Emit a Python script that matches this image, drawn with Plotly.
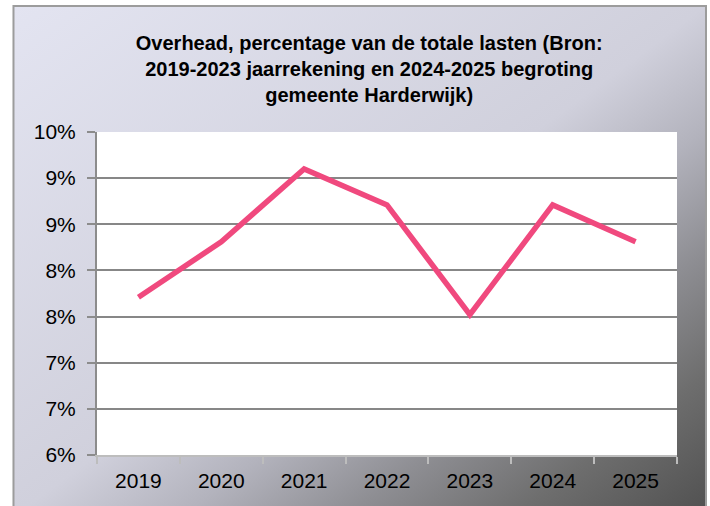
import base64
import plotly.graph_objects as go

title_fontsize = 20
tick_fontsize = 21
font_family = 'Liberation Sans, Arial, sans-serif'

years = ['2019', '2020', '2021', '2022', '2023', '2024', '2025']
overhead_pct = [7.71, 8.31, 9.1, 8.71, 7.52, 8.71, 8.31]

y_tickvals = [6.0, 6.5, 7.0, 7.5, 8.0, 8.5, 9.0, 9.5]
y_ticktext = ['6%', '7%', '7%', '8%', '8%', '9%', '9%', '10%']


def gradient_background():
    # diagonal grey gradient like the Excel chart area
    svg = ("<svg xmlns='http://www.w3.org/2000/svg' viewBox='0 0 100 100' "
           "width='100' height='100' preserveAspectRatio='none'>"
           "<defs><linearGradient id='g' x1='0' y1='0' x2='1' y2='1'>"
           "<stop offset='0' stop-color='#e3e4f1'/>"
           "<stop offset='0.5' stop-color='#d0d0dc'/>"
           "<stop offset='0.62' stop-color='#b3b3bd'/>"
           "<stop offset='0.74' stop-color='#8e8e93'/>"
           "<stop offset='0.86' stop-color='#6e6e6e'/>"
           "<stop offset='1' stop-color='#505050'/>"
           "</linearGradient></defs>"
           "<rect x='0' y='0' width='100' height='100' fill='url(#g)'/></svg>")
    return 'data:image/svg+xml;base64,' + base64.b64encode(svg.encode()).decode()


f = go.Figure()

f.add_trace(go.Scatter(x=years, y=overhead_pct,
                       mode='lines',
                       name='Overhead',
                       line={
                           'color': '#f0497e',
                           'width': 5.5
                       }
                       )
            )

f.add_layout_image(dict(
    source=gradient_background(),
    xref='paper', yref='paper',
    x=-0.144, y=1.39,
    sizex=1.194, sizey=1.58,
    xanchor='left', yanchor='top',
    sizing='stretch',
    layer='below'
))

# white plot area on top of the gradient
f.add_shape(type='rect', xref='x domain', yref='y domain',
            x0=0, x1=1, y0=0, y1=1,
            fillcolor='white', line={'width': 0}, layer='below')

# chart area border
f.add_shape(type='rect', xref='paper', yref='paper',
            x0=-0.144, x1=1.05, y0=-0.19, y1=1.39,
            line={'color': '#9c9c9c', 'width': 2}, layer='above')

f.update_layout(
    width=710,
    height=506,
    margin={'l': 97, 'r': 33, 't': 132, 'b': 51},
    paper_bgcolor='white',
    plot_bgcolor='white',
    showlegend=False,
    font={'family': font_family, 'color': '#000000', 'size': tick_fontsize},
    title={
        'text': 'Overhead, percentage van de totale lasten (Bron:<br>'
                '2019-2023 jaarrekening en 2024-2025 begroting<br>'
                'gemeente Harderwijk)',
        'font': {
            'size': title_fontsize,
            'family': font_family,
            'weight': 'bold',
            'color': '#000000'
        },
        'x': 0.52,
        'xanchor': 'center',
        'y': 0.902,
        'yanchor': 'top'
    },
    xaxis={
        'type': 'category',
        'range': [-0.5, len(years) - 0.5],
        'showgrid': False,
        'showline': True,
        'linecolor': '#bdbdbd',
        'linewidth': 2,
        'ticks': 'outside',
        'tickson': 'boundaries',
        'ticklen': 7,
        'tickcolor': '#bdbdbd',
        'tickwidth': 2,
        'ticklabelstandoff': 6,
        'tickfont': {'size': tick_fontsize},
        'fixedrange': True
    },
    yaxis={
        'range': [6.0, 9.5],
        'tickvals': y_tickvals,
        'ticktext': y_ticktext,
        'showgrid': True,
        'gridcolor': '#878787',
        'gridwidth': 1.5,
        'showline': True,
        'linecolor': '#8c8c8c',
        'linewidth': 2,
        'ticks': 'outside',
        'ticklen': 8,
        'tickcolor': '#8c8c8c',
        'tickwidth': 2,
        'ticklabelstandoff': 7,
        'zeroline': False,
        'tickfont': {'size': tick_fontsize},
        'fixedrange': True
    }
)

# the page has a default body margin; drop it so the chart sits at 0,0
f.write_html('out.html', config={'displayModeBar': False},
             post_script="document.body.style.margin = '0';")
